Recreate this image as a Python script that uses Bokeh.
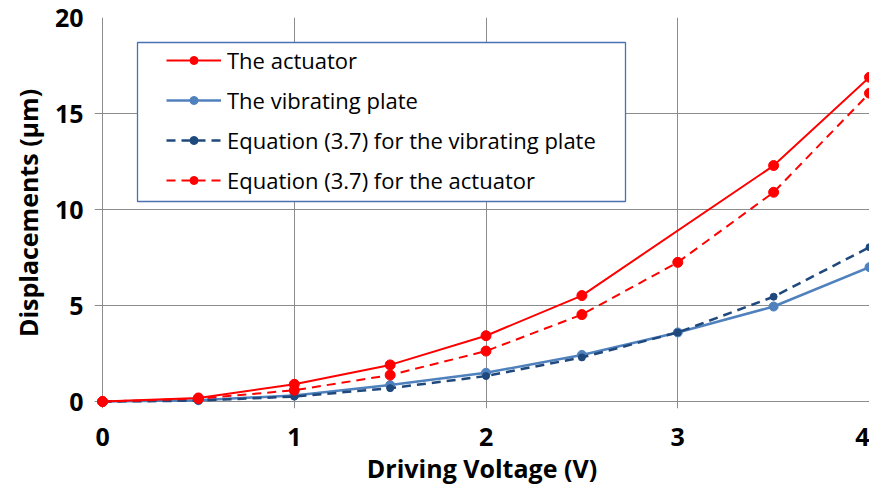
from bokeh.plotting import figure
from bokeh.models import Range1d, FixedTicker, Legend, LegendItem, BoxAnnotation
from bokeh.embed import file_html
from bokeh.resources import INLINE

# ---- data ----
voltage = [0, 0.5, 1, 1.5, 2, 2.5, 3, 3.5, 4]
actuator_voltage = [0, 0.5, 1, 1.5, 2, 2.5, 3.5, 4]
actuator = [0, 0.19, 0.9, 1.91, 3.43, 5.52, 12.29, 16.89]
plate = [0, 0.07, 0.32, 0.86, 1.5, 2.43, 3.6, 4.95, 7.0]
eq_plate = [0, 0.05, 0.26, 0.7, 1.33, 2.3, 3.6, 5.46, 8.04]
eq_actuator = [0, 0.15, 0.59, 1.38, 2.63, 4.53, 7.25, 10.9, 16.06]
x_ticks = [0, 1, 2, 3, 4]
y_ticks = [0, 5, 10, 15, 20]
labels = ["The actuator", "The vibrating plate",
          "Equation (3.7) for the vibrating plate", "Equation (3.7) for the actuator"]

RED = "#ff0000"
LBLUE = "#4f81bd"
DBLUE = "#1f497d"
GRID = "#8c8c8c"
FONT = "Open Sans"

p = figure(width=869, height=488,
           x_range=Range1d(-0.042, 4.0), y_range=Range1d(-0.36, 20),
           output_backend="svg", toolbar_location=None,
           min_border_left=94, min_border_right=0, min_border_top=17, min_border_bottom=80)
p.outline_line_color = None
p.background_fill_color = "white"
p.border_fill_color = "white"

for ax, ticks in ((p.xaxis, x_ticks), (p.yaxis, y_ticks)):
    ax.ticker = FixedTicker(ticks=ticks)
    ax.major_tick_out = 0
    ax.major_tick_in = 0
    ax.minor_tick_out = 0
    ax.minor_tick_in = 0
    ax.axis_line_color = None
    ax.major_label_text_font = FONT
    ax.major_label_text_font_style = "bold"
    ax.major_label_text_font_size = "25px"
    ax.major_label_text_color = "black"
    ax.axis_label_text_font = FONT
    ax.axis_label_text_font_style = "bold"
    ax.axis_label_text_font_size = "25px"
    ax.axis_label_text_color = "black"

p.xaxis.axis_label = "Driving Voltage (V)"
p.yaxis.axis_label = "Displacements (\u03bcm)"
p.xaxis.major_label_standoff = 19
p.yaxis.major_label_standoff = 11
p.xaxis.axis_label_standoff = 2
p.yaxis.axis_label_standoff = 7

p.xgrid.ticker = FixedTicker(ticks=x_ticks)
p.ygrid.ticker = FixedTicker(ticks=y_ticks)
for g in (p.xgrid, p.ygrid):
    g.grid_line_color = GRID
    g.grid_line_width = 1

# series
l_plate = p.line(voltage, plate, line_color=LBLUE, line_width=2.5)
m_plate = p.scatter(voltage, plate, size=9, fill_color=LBLUE, line_color=LBLUE)
l_eqp = p.line(voltage, eq_plate, line_color=DBLUE, line_width=2.5, line_dash="9 6")
m_eqp = p.scatter(voltage, eq_plate, size=7, fill_color=DBLUE, line_color=DBLUE)
l_eqa = p.line(voltage, eq_actuator, line_color=RED, line_width=2, line_dash="9 6")
m_eqa = p.scatter(voltage, eq_actuator, size=10, fill_color=RED, line_color=RED)
l_act = p.line(actuator_voltage, actuator, line_color=RED, line_width=2)
m_act = p.scatter(actuator_voltage, actuator, size=10, fill_color=RED, line_color=RED)

# legend frame (screen units, relative to the plot frame's bottom-left)
legend_box = BoxAnnotation(left=43, right=531, bottom=207, top=366,
                           left_units="screen", right_units="screen",
                           bottom_units="screen", top_units="screen",
                           fill_color="white", fill_alpha=1.0,
                           line_color="#4a72b0", line_width=1.3, line_alpha=1.0)
p.add_layout(legend_box)

legend = Legend(items=[
    LegendItem(label=labels[0], renderers=[l_act, m_act]),
    LegendItem(label=labels[1], renderers=[l_plate, m_plate]),
    LegendItem(label=labels[2], renderers=[l_eqp, m_eqp]),
    LegendItem(label=labels[3], renderers=[l_eqa, m_eqa]),
], location=(72, 213))
legend.glyph_width = 55
legend.glyph_height = 20
legend.label_height = 20
legend.label_standoff = 6
legend.padding = 5
legend.spacing = 10
legend.label_width = 393
legend.label_text_font = FONT
legend.label_text_font_size = "22px"
legend.label_text_color = "black"
legend.border_line_color = None
legend.background_fill_alpha = 0.0
p.add_layout(legend)

open("out.html", "w").write(file_html(p, INLINE))
